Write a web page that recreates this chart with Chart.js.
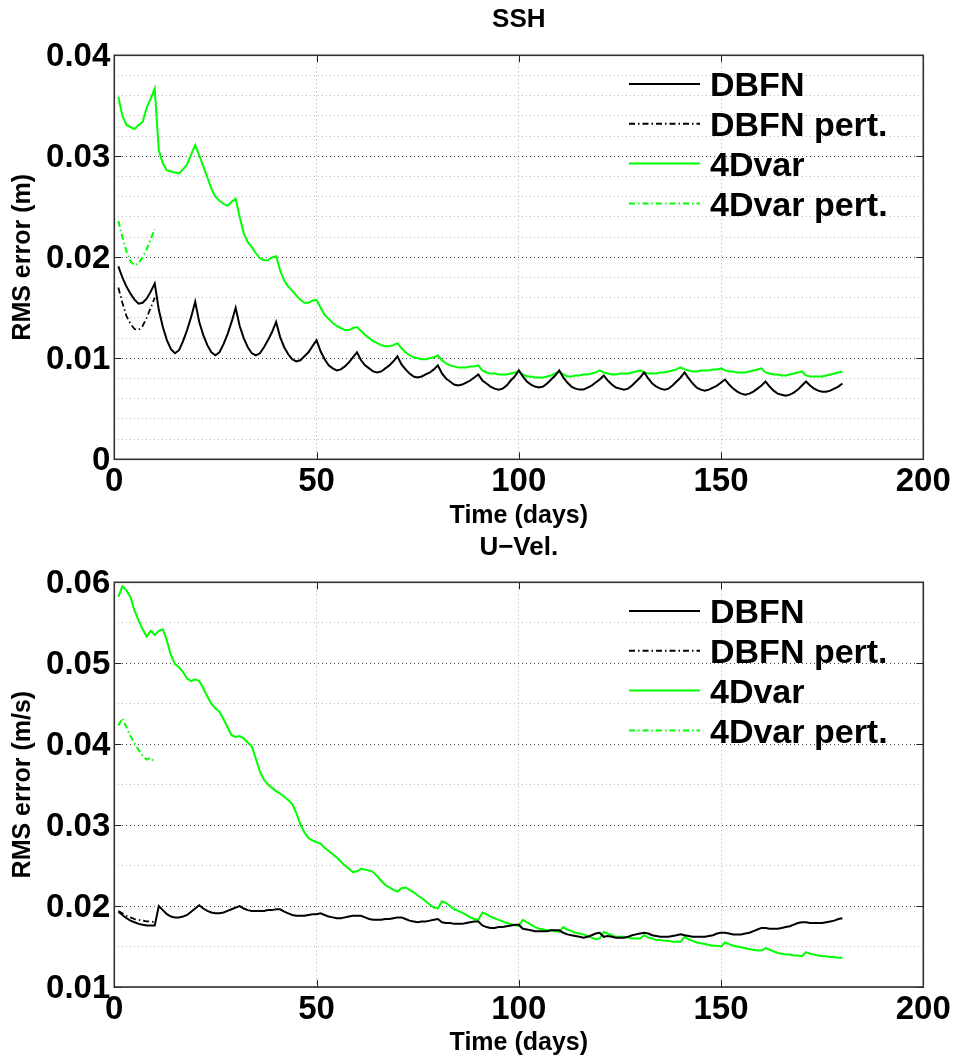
<!DOCTYPE html>
<html><head><meta charset="utf-8">
<script src="https://cdn.jsdelivr.net/npm/chart.js@4.4.0/dist/chart.umd.min.js"></script>
<style>
html,body{margin:0;padding:0;background:#fff;}
#wrap{position:relative;width:956px;height:1059px;overflow:hidden;}
.box{position:absolute;left:0;width:956px;}
canvas{display:block;}
</style></head><body>
<div id="wrap">
<div class="box" style="top:0;height:532px"><canvas id="c1" width="956" height="532"></canvas></div>
<div class="box" style="top:532px;height:527px"><canvas id="c2" width="956" height="527"></canvas></div>
</div>
<script>
// ---------- data ----------
const days = [];
for (let d = 1; d <= 180; d++) days.push(d);
const pertDays = [1, 2, 3, 4, 5, 6, 7, 8, 9, 10];
const seriesLabels = ['DBFN', 'DBFN pert.', '4Dvar', '4Dvar pert.'];
const xTicks = [0, 50, 100, 150, 200];

// SSH (m)
const sshDBFN = [
0.0191,0.0180,0.0171,0.0164,0.0158,0.0154,0.0155,0.0159,0.0166,0.0174,
0.0148,0.0131,0.0118,0.0109,0.0105,0.0108,0.0117,0.0128,0.0141,0.0156,
0.0136,0.0123,0.0113,0.0106,0.0103,0.0106,0.0114,0.0124,0.0136,0.0150,
0.0132,0.0120,0.0111,0.0105,0.0103,0.0105,0.0111,0.0118,0.0126,0.0136,
0.0121,0.0111,0.0104,0.0099,0.0097,0.0098,0.0102,0.0106,0.0112,0.0118,
0.0107,0.0099,0.0093,0.0090,0.0088,0.0089,0.0092,0.0096,0.0101,0.0106,
0.0098,0.0093,0.0090,0.0087,0.0086,0.0087,0.0090,0.0093,0.0097,0.0102,
0.0094,0.0089,0.0085,0.0082,0.0081,0.0082,0.0084,0.0086,0.0089,0.0093,
0.0085,0.0080,0.0077,0.0074,0.0073,0.0074,0.0076,0.0078,0.0081,0.0084,
0.0078,0.0075,0.0072,0.0070,0.0069,0.0070,0.0073,0.0078,0.0082,0.0088,
0.0082,0.0077,0.0074,0.0072,0.0071,0.0072,0.0075,0.0079,0.0083,0.0088,
0.0081,0.0076,0.0072,0.0070,0.0069,0.0069,0.0071,0.0073,0.0076,0.0079,
0.0083,0.0078,0.0074,0.0071,0.0070,0.0069,0.0070,0.0073,0.0077,0.0081,
0.0086,0.0080,0.0075,0.0072,0.0070,0.0069,0.0070,0.0073,0.0077,0.0081,
0.0086,0.0080,0.0075,0.0071,0.0069,0.0068,0.0069,0.0071,0.0073,0.0076,
0.0079,0.0074,0.0070,0.0067,0.0065,0.0064,0.0065,0.0067,0.0070,0.0073,
0.0077,0.0072,0.0068,0.0065,0.0064,0.0063,0.0064,0.0066,0.0069,0.0073,
0.0077,0.0073,0.0070,0.0068,0.0067,0.0067,0.0068,0.0070,0.0072,0.0075];
const sshDBFNPert = [0.0170,0.0155,0.0142,0.0134,0.0129,0.0128,0.0132,0.0140,0.0150,0.0160];
const ssh4Dvar = [
0.0359,0.0340,0.0331,0.0329,0.0327,0.0331,0.0334,0.0348,0.0357,0.0367,
0.0306,0.0293,0.0286,0.0285,0.0284,0.0283,0.0287,0.0292,0.0302,0.0311,
0.0301,0.0290,0.0279,0.0268,0.0260,0.0256,0.0253,0.0251,0.0255,0.0258,
0.0240,0.0224,0.0215,0.0210,0.0204,0.0199,0.0197,0.0197,0.0200,0.0201,
0.0187,0.0177,0.0171,0.0167,0.0162,0.0158,0.0155,0.0155,0.0157,0.0158,
0.0150,0.0143,0.0139,0.0135,0.0132,0.0130,0.0128,0.0128,0.0130,0.0131,
0.0127,0.0123,0.0120,0.0117,0.0115,0.0113,0.0112,0.0112,0.0113,0.0115,
0.0110,0.0106,0.0103,0.0101,0.0100,0.0099,0.0099,0.0100,0.0101,0.0103,
0.0098,0.0095,0.0093,0.0092,0.0091,0.0091,0.0091,0.0092,0.0092,0.0093,
0.0088,0.0086,0.0085,0.0085,0.0084,0.0084,0.0084,0.0085,0.0086,0.0087,
0.0084,0.0082,0.0082,0.0081,0.0081,0.0081,0.0082,0.0083,0.0085,0.0087,
0.0084,0.0082,0.0082,0.0083,0.0083,0.0084,0.0084,0.0085,0.0086,0.0088,
0.0086,0.0085,0.0084,0.0084,0.0085,0.0085,0.0085,0.0086,0.0087,0.0088,
0.0086,0.0085,0.0085,0.0085,0.0086,0.0086,0.0087,0.0088,0.0089,0.0091,
0.0089,0.0088,0.0087,0.0087,0.0088,0.0088,0.0088,0.0089,0.0089,0.0090,
0.0088,0.0087,0.0087,0.0086,0.0086,0.0086,0.0087,0.0088,0.0089,0.0090,
0.0086,0.0085,0.0084,0.0084,0.0083,0.0083,0.0084,0.0085,0.0086,0.0087,
0.0083,0.0082,0.0082,0.0082,0.0082,0.0083,0.0084,0.0085,0.0086,0.0087];
const ssh4DvarPert = [0.0236,0.0220,0.0206,0.0196,0.0192,0.0194,0.0200,0.0208,0.0218,0.0228];

// U-Vel. (m/s)
const uDBFN = [
0.0193,0.0189,0.0185,0.0182,0.0180,0.0178,0.0177,0.0176,0.0176,0.0176,
0.0200,0.0195,0.0190,0.0187,0.0186,0.0186,0.0187,0.0189,0.0193,0.0197,
0.0201,0.0197,0.0194,0.0192,0.0191,0.0191,0.0192,0.0194,0.0196,0.0198,
0.0200,0.0197,0.0195,0.0194,0.0194,0.0194,0.0194,0.0195,0.0195,0.0196,
0.0196,0.0193,0.0191,0.0189,0.0188,0.0188,0.0188,0.0189,0.0190,0.0190,
0.0191,0.0189,0.0187,0.0186,0.0185,0.0185,0.0186,0.0187,0.0188,0.0188,
0.0188,0.0186,0.0184,0.0183,0.0183,0.0183,0.0184,0.0184,0.0185,0.0186,
0.0186,0.0184,0.0182,0.0181,0.0180,0.0181,0.0181,0.0182,0.0183,0.0184,
0.0180,0.0179,0.0179,0.0178,0.0178,0.0178,0.0179,0.0180,0.0181,0.0181,
0.0176,0.0174,0.0173,0.0173,0.0174,0.0174,0.0175,0.0176,0.0177,0.0177,
0.0172,0.0171,0.0170,0.0169,0.0169,0.0169,0.0169,0.0170,0.0170,0.0170,
0.0167,0.0165,0.0164,0.0163,0.0162,0.0161,0.0162,0.0164,0.0166,0.0167,
0.0162,0.0163,0.0162,0.0161,0.0161,0.0161,0.0162,0.0164,0.0165,0.0166,
0.0167,0.0166,0.0164,0.0163,0.0162,0.0162,0.0162,0.0163,0.0164,0.0165,
0.0164,0.0163,0.0162,0.0162,0.0162,0.0162,0.0163,0.0164,0.0166,0.0167,
0.0167,0.0166,0.0165,0.0165,0.0165,0.0166,0.0167,0.0169,0.0171,0.0173,
0.0173,0.0172,0.0172,0.0172,0.0173,0.0174,0.0175,0.0177,0.0179,0.0180,
0.0180,0.0179,0.0179,0.0179,0.0179,0.0180,0.0181,0.0182,0.0184,0.0185];
const uDBFNPert = [0.0194,0.0191,0.0188,0.0186,0.0184,0.0183,0.0182,0.0181,0.0181,0.0180];
const u4Dvar = [
0.0582,0.0595,0.0590,0.0582,0.0565,0.0553,0.0542,0.0533,0.0540,0.0535,
0.0540,0.0542,0.0528,0.0510,0.0499,0.0495,0.0489,0.0481,0.0478,0.0480,
0.0478,0.0469,0.0459,0.0450,0.0444,0.0440,0.0431,0.0421,0.0411,0.0409,
0.0410,0.0407,0.0402,0.0397,0.0382,0.0366,0.0356,0.0350,0.0346,0.0342,
0.0339,0.0335,0.0331,0.0326,0.0315,0.0301,0.0291,0.0284,0.0281,0.0279,
0.0277,0.0272,0.0268,0.0264,0.0260,0.0255,0.0250,0.0246,0.0242,0.0243,
0.0246,0.0245,0.0244,0.0242,0.0237,0.0231,0.0226,0.0223,0.0220,0.0218,
0.0222,0.0223,0.0220,0.0217,0.0213,0.0210,0.0206,0.0202,0.0198,0.0197,
0.0206,0.0204,0.0200,0.0196,0.0194,0.0192,0.0189,0.0186,0.0184,0.0183,
0.0192,0.0190,0.0187,0.0185,0.0183,0.0181,0.0179,0.0178,0.0176,0.0176,
0.0183,0.0180,0.0177,0.0174,0.0172,0.0171,0.0170,0.0170,0.0169,0.0168,
0.0174,0.0171,0.0169,0.0167,0.0166,0.0165,0.0163,0.0161,0.0159,0.0160,
0.0168,0.0166,0.0164,0.0162,0.0162,0.0162,0.0161,0.0160,0.0160,0.0160,
0.0164,0.0161,0.0160,0.0158,0.0158,0.0157,0.0157,0.0156,0.0156,0.0156,
0.0162,0.0159,0.0157,0.0155,0.0154,0.0153,0.0152,0.0151,0.0151,0.0150,
0.0155,0.0153,0.0151,0.0150,0.0149,0.0148,0.0147,0.0146,0.0145,0.0145,
0.0148,0.0146,0.0144,0.0142,0.0141,0.0140,0.0140,0.0139,0.0139,0.0138,
0.0143,0.0141,0.0140,0.0139,0.0138,0.0138,0.0137,0.0137,0.0136,0.0136];
const u4DvarPert = [0.0423,0.0432,0.0421,0.0410,0.0401,0.0393,0.0386,0.0381,0.0383,0.0378];

// ---------- helpers ----------
const FONT = '"Liberation Sans", Arial, Helvetica, sans-serif';
Chart.defaults.font.family = FONT;
Chart.defaults.color = '#000';

function pts(xs, ys) { return ys.map((y, i) => ({x: xs[i], y: y})); }
function isMajor(v) { return Math.abs(v * 100 - Math.round(v * 100)) < 1e-6; }

const framePlugin = {
  id: 'frameLegend',
  afterDatasetsDraw(chart, args, opts) {
    const {ctx, chartArea: a, scales} = chart;
    ctx.save();
    ctx.setLineDash([]);
    // inward tick marks on all four sides
    ctx.strokeStyle = '#222';
    ctx.lineWidth = 1;
    const tl = 7;
    ctx.beginPath();
    scales.x.ticks.forEach(t => {
      const px = Math.round(scales.x.getPixelForValue(t.value)) + 0.5;
      ctx.moveTo(px, a.bottom); ctx.lineTo(px, a.bottom - tl);
      ctx.moveTo(px, a.top); ctx.lineTo(px, a.top + tl);
    });
    scales.y.ticks.forEach(t => {
      if (!isMajor(t.value)) return;
      const py = Math.round(scales.y.getPixelForValue(t.value)) + 0.5;
      ctx.moveTo(a.left, py); ctx.lineTo(a.left + tl, py);
      ctx.moveTo(a.right, py); ctx.lineTo(a.right - tl, py);
    });
    ctx.stroke();
    // frame
    ctx.strokeStyle = '#333';
    ctx.lineWidth = 1.6;
    ctx.strokeRect(a.left, a.top, a.right - a.left, a.bottom - a.top);
    // legend (built from the datasets)
    chart.data.datasets.forEach((ds, i) => {
      const y = a.top + opts.dy + i * opts.gap;
      ctx.beginPath();
      ctx.setLineDash(ds.borderDash || []);
      ctx.strokeStyle = ds.borderColor;
      ctx.lineWidth = 2;
      ctx.moveTo(opts.x, y);
      ctx.lineTo(opts.x + opts.len, y);
      ctx.stroke();
      ctx.setLineDash([]);
      ctx.fillStyle = '#000';
      ctx.font = 'bold 34px ' + FONT;
      ctx.textAlign = 'left';
      ctx.textBaseline = 'middle';
      ctx.fillText(ds.label, opts.x + opts.len + opts.textGap, y + 3);
    });
    ctx.restore();
  }
};

function makeChart(id, cfg) {
  const dashDot = [6, 3, 1.5, 3];
  return new Chart(document.getElementById(id), {
    type: 'line',
    data: {
      datasets: [
        {label: seriesLabels[0], data: pts(days, cfg.a), borderColor: '#000000', borderWidth: 2},
        {label: seriesLabels[1], data: pts(pertDays, cfg.b), borderColor: '#000000', borderWidth: 1.8, borderDash: dashDot},
        {label: seriesLabels[2], data: pts(days, cfg.c), borderColor: '#00ff00', borderWidth: 2},
        {label: seriesLabels[3], data: pts(pertDays, cfg.d), borderColor: '#00ff00', borderWidth: 2, borderDash: dashDot}
      ]
    },
    options: {
      responsive: false,
      animation: false,
      devicePixelRatio: 1,
      elements: {point: {radius: 0}, line: {tension: 0, fill: false}},
      layout: {padding: {left: 0, right: 32.7, top: 0, bottom: 0}},
      plugins: {
        legend: {display: false},
        tooltip: {enabled: false},
        title: {
          display: true, text: cfg.title, color: '#000', fullSize: false,
          font: {size: 26, weight: 'bold', family: FONT},
          padding: {top: cfg.titleTop, bottom: cfg.titleBottom}
        },
        frameLegend: {x: 629, dy: 28.7, gap: 39.8, len: 71, textGap: 10}
      },
      scales: {
        x: {
          type: 'linear', min: 0, max: 200,
          afterBuildTicks: s => { s.ticks = xTicks.map(v => ({value: v})); },
          ticks: {autoSkip: false, maxRotation: 0, padding: 3, color: '#000',
                  font: {size: 33, weight: 'bold', family: FONT}},
          grid: {color: '#b0b0b0', lineWidth: 1, drawTicks: false},
          border: {display: false, dash: [1, 3]},
          title: {display: true, text: 'Time (days)', color: '#000',
                  font: {size: 25, weight: 'bold', family: FONT}, padding: {top: 0, bottom: 1}},
          afterFit: s => { s.height = cfg.xHeight; }
        },
        y: {
          type: 'linear', min: cfg.ymin, max: cfg.ymax,
          ticks: {stepSize: cfg.ystep, autoSkip: false, padding: 4, labelOffset: 2, color: '#000',
                  font: {size: 33, weight: 'bold', family: FONT},
                  callback: v => isMajor(v) ? (Math.abs(v) < 1e-9 ? '0' : v.toFixed(2)) : ''},
          grid: {color: c => isMajor(c.tick.value) ? '#444444' : '#b8b8b8', lineWidth: 1, drawTicks: false},
          border: {display: false, dash: [1, 3]},
          title: {display: true, text: cfg.ytitle, color: '#000',
                  font: {size: 25, weight: 'bold', family: FONT}, padding: {top: 8, bottom: 0}},
          afterFit: s => { s.width = 114.3; }
        }
      }
    },
    plugins: [framePlugin]
  });
}

makeChart('c1', {
  a: sshDBFN, b: sshDBFNPert, c: ssh4Dvar, d: ssh4DvarPert,
  title: 'SSH', titleTop: 4.4, titleBottom: 19.7,
  ymin: 0, ymax: 0.04, ystep: 0.002, ytitle: 'RMS error (m)',
  xHeight: 72.7
});
makeChart('c2', {
  a: uDBFN, b: uDBFNPert, c: u4Dvar, d: u4DvarPert,
  title: 'U\u2212Vel.', titleTop: 0, titleBottom: 19.1,
  ymin: 0.01, ymax: 0.06, ystep: 0.005, ytitle: 'RMS error (m/s)',
  xHeight: 72
});
</script>
</body></html>
